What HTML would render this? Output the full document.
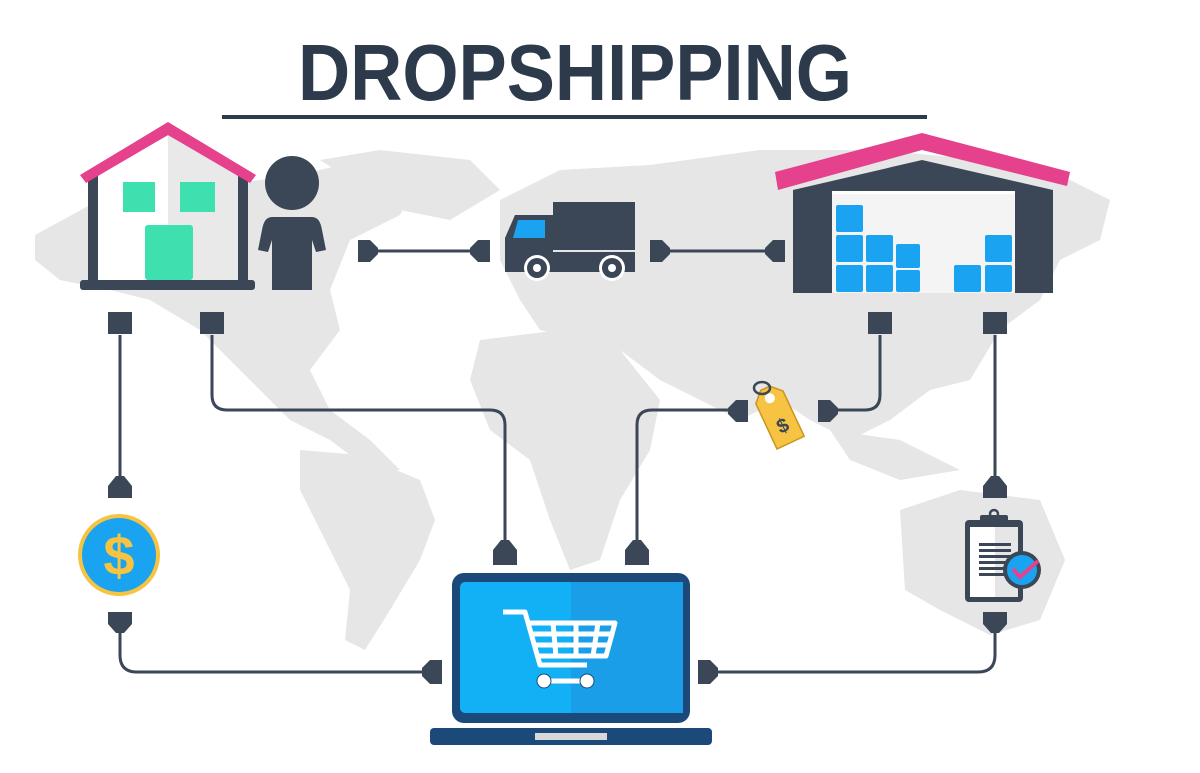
<!DOCTYPE html>
<html><head><meta charset="utf-8"><style>
html,body{margin:0;padding:0;background:#fff;width:1200px;height:773px;overflow:hidden}
svg{display:block}
</style></head><body>
<svg width="1200" height="773" viewBox="0 0 1200 773" xmlns="http://www.w3.org/2000/svg">
<!-- map -->
<g fill="#e6e6e6">
<path d="M35,235 L90,205 L180,190 L300,175 L360,160 L420,175 L400,215 L350,240 L330,290 L340,330 L310,370 L330,410 L370,440 L400,470 L370,470 L330,440 L290,420 L250,380 L200,330 L150,300 L110,290 L60,280 L35,260 Z"/>
<path d="M320,160 L380,150 L470,160 L500,190 L450,220 L400,210 Z"/>
<path d="M300,450 L360,455 L420,480 L435,520 L420,560 L390,610 L365,650 L345,640 L350,590 L320,530 L300,490 Z"/>
<path d="M500,200 L560,170 L650,165 L760,150 L880,150 L980,160 L1060,175 L1110,200 L1100,240 L1060,260 L1040,300 L1000,330 L970,380 L930,390 L890,420 L850,440 L810,420 L780,400 L740,420 L700,400 L660,380 L620,350 L580,340 L540,330 L520,300 L500,260 Z"/>
<path d="M480,340 L560,330 L620,350 L660,400 L650,450 L620,500 L600,560 L570,570 L550,520 L530,460 L490,430 L470,380 Z"/>
<path d="M900,510 L960,490 L1040,500 L1065,560 L1040,620 L990,635 L940,610 L905,590 Z"/>
<path d="M830,430 L900,440 L960,470 L900,480 L850,460 Z"/>
</g>
<!-- title -->
<text x="575" y="100" text-anchor="middle" font-family="Liberation Sans, sans-serif" font-weight="bold" font-size="80" fill="#2c3a4b" textLength="554" lengthAdjust="spacingAndGlyphs">DROPSHIPPING</text>
<rect x="222" y="115" width="705" height="4" fill="#2c3a4b"/>
<!-- wires -->
<g fill="none" stroke="#3b4656" stroke-width="3">
<path d="M120,335 V480"/>
<path d="M120,630 V655 Q120,672 137,672 H425"/>
<path d="M212,335 V395 Q212,410 227,410 H490 Q505,410 505,425 V545"/>
<path d="M880,335 V395 Q880,410 865,410 H825"/>
<path d="M735,410 H652 Q637,410 637,425 V545"/>
<path d="M995,335 V480"/>
<path d="M995,630 V655 Q995,672 978,672 H715"/>
<path d="M375,251 H470"/>
<path d="M665,251 H770"/>
</g>
<g fill="#3b4656">
<rect x="108" y="312" width="24" height="22"/><rect x="200" y="312" width="24" height="22"/>
<rect x="868" y="312" width="24" height="22"/><rect x="983" y="312" width="24" height="22"/>
<path d="M116,476 h8 l8,10 v12 h-24 v-12z"/>
<path d="M991,476 h8 l8,10 v12 h-24 v-12z"/>
<path d="M501,540 h8 l8,10 v15 h-24 v-15z"/>
<path d="M633,540 h8 l8,10 v15 h-24 v-15z"/>
<path d="M108,612 h24 v12 l-8,9 h-8 l-8,-9z"/>
<path d="M983,612 h24 v12 l-8,9 h-8 l-8,-9z"/>
<path d="M358,240 h12 l8,8 v6 l-8,8 h-12z"/>
<path d="M490,240 h-12 l-8,8 v6 l8,8 h12z"/>
<path d="M650,240 h12 l8,8 v6 l-8,8 h-12z"/>
<path d="M785,240 h-12 l-8,8 v6 l8,8 h12z"/>
<path d="M748,400 h-12 l-8,8 v6 l8,8 h12z"/>
<path d="M818,400 h12 l8,8 v6 l-8,8 h-12z"/>
<path d="M442,660 h-12 l-8,8 v8 l8,8 h12z"/>
<path d="M698,660 h12 l8,8 v8 l-8,8 h-12z"/>
</g>
<!-- house -->
<path d="M93,175 L168,132 L243,175 V285 H93Z" fill="#fff"/>
<path d="M168,132 L243,175 V285 H168Z" fill="#e9e9e9"/>
<path d="M88,175 L168,128 L248,175 V285 H238 V175 L168,135 L98,175 V285 H88Z" fill="#3b4656"/>
<rect x="80" y="280" width="175" height="10" rx="3" fill="#3b4656"/>
<path d="M80,175 L168,122 L256,175 L250,183 L168,135 L86,183Z" fill="#e5418c"/>
<rect x="123" y="182" width="32" height="30" fill="#3ee0b0"/>
<rect x="180" y="182" width="35" height="30" fill="#3ee0b0"/>
<rect x="145" y="225" width="48" height="55" rx="3" fill="#3ee0b0"/>
<!-- person -->
<circle cx="292" cy="183" r="27" fill="#3b4656"/>
<path d="M272,217 H312 Q320,217 322,230 L326,250 L316,252 L312,240 V290 H272 V240 L268,252 L258,250 L262,230 Q264,217 272,217Z" fill="#3b4656"/>
<!-- truck -->
<rect x="553" y="202" width="82" height="48" fill="#3b4656"/>
<path d="M505,238 L515,215 H553 V272 H505Z" fill="#3b4656"/>
<rect x="553" y="252" width="82" height="20" fill="#3b4656"/>
<path d="M518,220 H545 V238 H513Z" fill="#1aa3f0"/>
<circle cx="537" cy="268" r="13" fill="#fff"/><circle cx="537" cy="268" r="10" fill="#3b4656"/><circle cx="537" cy="268" r="4" fill="#fff"/>
<circle cx="612" cy="268" r="13" fill="#fff"/><circle cx="612" cy="268" r="10" fill="#3b4656"/><circle cx="612" cy="268" r="4" fill="#fff"/>
<!-- warehouse -->
<path d="M793,190 L922,160 L1053,190 V293 H793Z" fill="#3b4656"/>
<rect x="832" y="193" width="183" height="100" fill="#f4f4f4"/>
<rect x="832" y="191" width="183" height="3" fill="#fff"/>
<path d="M775,172 L922,133 L1070,172 L1067,186 L922,150 L778,190Z" fill="#e5418c"/>
<g fill="#1aa3f0">
<rect x="836" y="205" width="27" height="27" rx="2"/><rect x="836" y="235" width="27" height="27" rx="2"/><rect x="836" y="265" width="27" height="27" rx="2"/>
<rect x="866" y="235" width="27" height="27" rx="2"/><rect x="866" y="265" width="27" height="27" rx="2"/>
<rect x="896" y="244" width="24" height="24" rx="2"/><rect x="896" y="270" width="24" height="22" rx="2"/>
<rect x="954" y="265" width="27" height="27" rx="2"/>
<rect x="985" y="235" width="27" height="27" rx="2"/><rect x="985" y="265" width="27" height="27" rx="2"/>
</g>
<!-- tag -->
<g transform="rotate(-25 780 420)">
<path d="M765,395 L775,385 H785 L795,395 V445 H765Z" fill="#f6c343" stroke="#c9961f" stroke-width="1.5"/>
<circle cx="780" cy="396" r="5" fill="#fff"/>
<text x="780" y="433" text-anchor="middle" font-family="Liberation Sans, sans-serif" font-weight="bold" font-size="20" fill="#3b4656">$</text>
</g>
<ellipse cx="762" cy="388" rx="8" ry="6" fill="none" stroke="#3b4656" stroke-width="2.5"/>
<!-- coin -->
<circle cx="119" cy="555" r="41" fill="#f6c343"/>
<circle cx="119" cy="555" r="37" fill="#1aa3f0"/>
<text x="119" y="575" text-anchor="middle" font-family="Liberation Sans, sans-serif" font-weight="bold" font-size="56" fill="#f6c343">$</text>
<!-- clipboard -->
<rect x="965" y="520" width="58" height="82" rx="4" fill="#3b4656"/>
<rect x="970" y="527" width="48" height="70" fill="#fff"/>
<rect x="995" y="527" width="23" height="70" fill="#e6e6e6"/>
<rect x="980" y="515" width="28" height="10" rx="2" fill="#3b4656"/>
<circle cx="994" cy="514" r="4" fill="none" stroke="#3b4656" stroke-width="2.5"/>
<g fill="#3b4656"><rect x="979" y="543" width="32" height="3"/><rect x="979" y="549" width="32" height="3"/><rect x="979" y="555" width="32" height="3"/><rect x="979" y="561" width="32" height="3"/><rect x="979" y="567" width="32" height="3"/><rect x="979" y="573" width="25" height="3"/></g>
<circle cx="1022" cy="570" r="19" fill="#3b4656"/>
<circle cx="1022" cy="570" r="15" fill="#1aa3f0"/>
<path d="M1013,569 L1020,577 L1038,561" fill="none" stroke="#e5418c" stroke-width="4"/>
<!-- laptop -->
<rect x="452" y="573" width="238" height="150" rx="12" fill="#1b4a7a"/>
<rect x="460" y="582" width="223" height="131" rx="5" fill="#12b0f5"/>
<rect x="571" y="582" width="112" height="131" fill="#1a9ee8"/>
<rect x="430" y="728" width="282" height="17" rx="4" fill="#1b4a7a"/>
<rect x="535" y="733" width="72" height="7" fill="#d8d8d8"/>
<g fill="none" stroke="#fff" stroke-width="5" stroke-linejoin="round">
<path d="M503,612 H525 L540,665 H587"/>
<path d="M528,623 H615 L606,656 H537"/>
<path d="M531,634 H612 M534,645 H609"/>
<path d="M553,623 L556,656 M576,623 L576,656 M598,623 L593,656"/>
<path d="M544,681 H586"/>
</g>
<circle cx="544" cy="681" r="7" fill="#fff" stroke="#1b4a7a" stroke-width="1"/>
<circle cx="587" cy="681" r="7" fill="#fff" stroke="#1b4a7a" stroke-width="1"/>
</svg>
</body></html>
